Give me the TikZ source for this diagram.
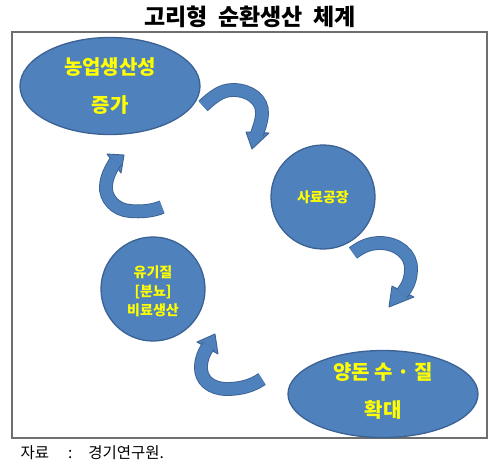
\documentclass[tikz,border=0pt]{standalone}
\usepackage{fontspec}
\newfontfamily\kr{Noto Sans CJK KR}
\usetikzlibrary{shapes.geometric,calc}
\definecolor{shapeblue}{HTML}{4F81BD}
\definecolor{shapeedge}{HTML}{3B6293}
\definecolor{txtyellow}{HTML}{FFFF00}
\definecolor{framegray}{HTML}{6E6E6E}
\tikzset{
  blob/.style={fill=shapeblue,draw=shapeedge,line width=1.3pt,inner sep=0pt},
  blobtext/.style={text=txtyellow,font=\kr\bfseries,align=center},
  bentbody/.style={draw=shapeedge,line width=0.9pt,double=shapeblue,double distance=12pt,line cap=butt},
  benthead/.style={fill=shapeblue,draw=shapeedge,line width=0.9pt,line join=round},
}
\begin{document}
\begin{tikzpicture}[x=1pt,y=-1pt]
\useasboundingbox (0,0) rectangle (500,469);
\fill[white] (0,0) rectangle (500,469);
\node[font=\kr\bfseries\fontsize{23}{27}\selectfont] (title) at (250,17) {고리형~~순환생산~~체계};
\draw[framegray,line width=1.1pt] (12,32) rectangle (487,438);
\node[blob,ellipse,minimum width=180pt,minimum height=97pt] (agri) at (110,86) {};
\node[blobtext,font=\kr\bfseries\fontsize{20}{24}\selectfont] (agritext) at (agri) {농업생산성\\[14pt]증가};
\node[blob,circle,minimum size=104pt] (feed) at (323,197) {};
\node[blobtext,font=\kr\bfseries\fontsize{14}{17}\selectfont] (feedtext) at (feed) {사료공장};
\node[blob,circle,minimum size=104pt] (fert) at (153,289) {};
\node[blobtext,font=\kr\bfseries\fontsize{14}{19}\selectfont] (ferttext) at (153,291) {유기질\\{[}분뇨{]}\\비료생산};
\node[blob,ellipse,minimum width=190pt,minimum height=87pt] (pig) at (383,394) {};
\node[blobtext,font=\kr\bfseries\fontsize{20}{24}\selectfont] (pigtext) at (383,391) {양돈 수 · 질\\[14pt]확대};
\node[anchor=west,font=\kr\fontsize{15.5}{18}\selectfont] (source) at (17,453) {자료\hspace{19pt}:\hspace{16pt}경기연구원.};
% arrow 1 : agri -> feed
\coordinate (a1tail) at (203,106);
\coordinate (a1top) at (233,90);
\coordinate (a1side) at (262,114);
\coordinate (a1end) at (256.8,134.4);
\draw[benthead] (246,132) -- (252,149) -- (269,133) -- cycle;
\draw[bentbody] (a1tail) .. controls (213,97) and (221,90) .. (a1top) .. controls (250,90) and (263,100) .. (a1side) .. controls (261.5,122) and (259,128) .. (a1end);
% arrow 2 : feed -> pig
\coordinate (a2tail) at (353,253);
\coordinate (a2top) at (380,243);
\coordinate (a2side) at (411,270);
\coordinate (a2end) at (401.8,293.6);
\draw[benthead] (392,286) -- (389,307) -- (414,297) -- cycle;
\draw[bentbody] (a2tail) .. controls (361,247) and (369,243) .. (a2top) .. controls (397,243) and (412,254) .. (a2side) .. controls (410.5,280) and (408,286) .. (a2end);
% arrow 3 : pig -> fert
\coordinate (a3tail) at (262,379);
\coordinate (a3bot) at (227,389);
\coordinate (a3side) at (201,366);
\coordinate (a3end) at (208.6,345.8);
\draw[benthead] (197,342) -- (215,334) -- (218,354) -- cycle;
\draw[bentbody] (a3tail) .. controls (252,386) and (240,389) .. (a3bot) .. controls (211,389) and (200,380) .. (a3side) .. controls (201.5,358) and (204,352) .. (a3end);
% arrow 4 : fert -> agri
\coordinate (a4tail) at (162,207);
\coordinate (a4bot) at (130,211);
\coordinate (a4side) at (106,186);
\coordinate (a4end) at (115.6,161.4);
\draw[benthead] (107,154) -- (124,155) -- (121,173) -- cycle;
\draw[bentbody] (a4tail) .. controls (153,211) and (141,212) .. (a4bot) .. controls (115,210) and (105,198) .. (a4side) .. controls (106.5,178) and (110,170) .. (a4end);
\end{tikzpicture}
\end{document}
